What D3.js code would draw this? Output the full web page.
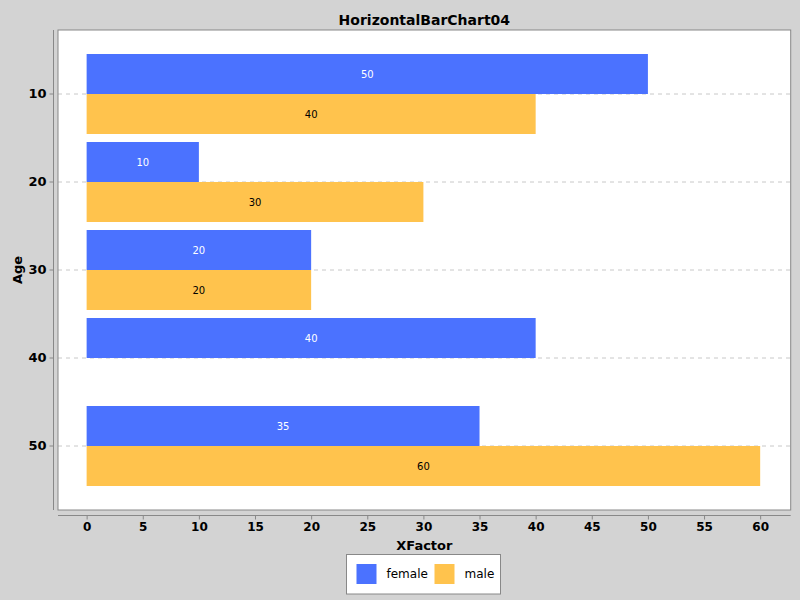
<!DOCTYPE html>
<html><head><meta charset="utf-8">
<script src="https://cdn.jsdelivr.net/npm/d3@7/dist/d3.min.js"></script>
<style>body{margin:0;background:#d3d3d3;}svg{display:block;font-family:"DejaVu Sans",sans-serif;}</style>
</head><body><svg id="c" width="800" height="600"></svg>
<script>
const categories = ["10","20","30","40","50"];
const seriesNames = ["female","male"];
const femaleValues = [50,10,20,40,35];
const maleValues = [40,30,20,null,60];
const xTicks = [0,5,10,15,20,25,30,35,40,45,50,55,60];
const colors = ["#4b72ff","#ffc34d"];
const labelColors = ["#ffffff","#000000"];

const svg = d3.select("#c");
svg.append("rect").attr("width",800).attr("height",600).attr("fill","#d3d3d3");
const L=58,R=790.7,T=30,B=510;
svg.append("rect").attr("x",L).attr("y",T).attr("width",R-L).attr("height",B-T).attr("fill","#fff");

const x = d3.scaleLinear().domain([-2.55,62.72]).range([L,R]);
const y = d3.scaleBand().domain(categories).range([T+20,B-20]).paddingInner(8/88).paddingOuter(4/88);
const ys = d3.scaleBand().domain(seriesNames).range([0,y.bandwidth()]);

// gridlines
svg.append("g").selectAll("line").data(categories).join("line")
  .attr("x1",L).attr("x2",R).attr("y1",d=>y(d)+y.bandwidth()/2).attr("y2",d=>y(d)+y.bandwidth()/2)
  .attr("stroke","#c8c8c8").attr("stroke-width",1).attr("stroke-dasharray","4,4");

const rows = categories.map((c,i)=>[{c,s:"female",v:femaleValues[i],k:0},{c,s:"male",v:maleValues[i],k:1}]).flat().filter(d=>d.v!=null);
svg.append("g").selectAll("rect").data(rows).join("rect")
  .attr("x",x(0)).attr("y",d=>y(d.c)+ys(d.s)).attr("width",d=>x(d.v)-x(0)).attr("height",ys.bandwidth())
  .attr("fill",d=>colors[d.k]);
svg.append("g").selectAll("text").data(rows).join("text")
  .attr("x",d=>(x(0)+x(d.v))/2).attr("y",d=>y(d.c)+ys(d.s)+ys.bandwidth()/2)
  .attr("dy","0.35em").attr("text-anchor","middle").attr("font-size",10)
  .attr("fill",d=>labelColors[d.k]).text(d=>d.v);

svg.append("rect").attr("x",L).attr("y",T).attr("width",R-L).attr("height",B-T)
  .attr("fill","none").attr("stroke","#888").attr("stroke-width",1);

// y axis
const ya = svg.append("g").attr("transform","translate(53.5,0)")
  .call(d3.axisLeft(y).tickSize(4).tickPadding(3));
ya.select(".domain").attr("stroke","#888").attr("d","M0,30V510");
ya.selectAll(".tick line").attr("stroke","#888");
ya.selectAll("text").attr("font-size",13).attr("font-weight","bold").attr("fill","#000").attr("font-family","DejaVu Sans");
ya.selectAll(".tick").attr("transform",d=>`translate(0,${y(d)+y.bandwidth()/2})`);

// x axis
const xa = svg.append("g").attr("transform","translate(0,515.5)")
  .call(d3.axisBottom(x).tickValues(xTicks).tickSize(4).tickPadding(3));
xa.select(".domain").attr("stroke","#888").attr("d",`M${L},0H${R}`);
xa.selectAll(".tick line").attr("stroke","#888");
xa.selectAll("text").attr("font-size",12).attr("font-weight","bold").attr("fill","#000").attr("font-family","DejaVu Sans");

svg.append("text").attr("x",(L+R)/2).attr("y",25).attr("text-anchor","middle")
  .attr("font-size",14).attr("font-weight","bold").text("HorizontalBarChart04");
svg.append("text").attr("x",(L+R)/2).attr("y",550).attr("text-anchor","middle")
  .attr("font-size",13).attr("font-weight","bold").text("XFactor");
svg.append("text").attr("transform",`translate(22,${(T+B)/2}) rotate(-90)`).attr("text-anchor","middle")
  .attr("font-size",13).attr("font-weight","bold").text("Age");

// legend
const lg = svg.append("g");
lg.append("rect").attr("x",346.5).attr("y",554.5).attr("width",154).attr("height",39.5).attr("fill","#fff").attr("stroke","#888");
const lx=[356.5,434.5];
seriesNames.forEach((s,i)=>{
  lg.append("rect").attr("x",lx[i]).attr("y",564).attr("width",20).attr("height",20).attr("fill",colors[i]);
  lg.append("text").attr("x",lx[i]+30).attr("y",574).attr("dy","0.35em").attr("font-size",12).attr("fill","#000").text(s);
});
</script></body></html>
